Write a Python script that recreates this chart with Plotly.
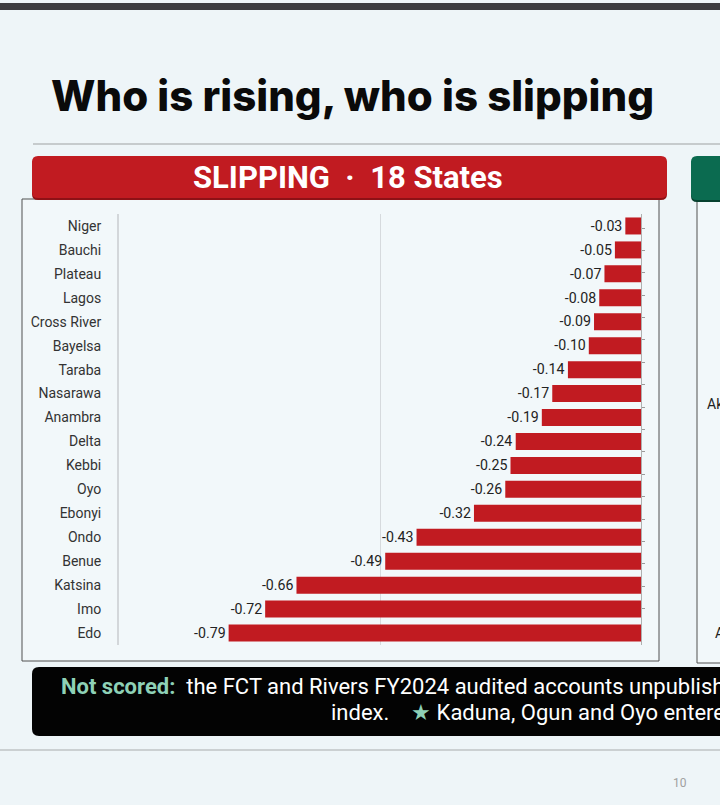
import plotly.graph_objects as go

# ---- data ----
states = ["Niger", "Bauchi", "Plateau", "Lagos", "Cross River", "Bayelsa", "Taraba",
          "Nasarawa", "Anambra", "Delta", "Kebbi", "Oyo", "Ebonyi", "Ondo", "Benue",
          "Katsina", "Imo", "Edo"]
changes = [-0.03, -0.05, -0.07, -0.08, -0.09, -0.10, -0.14, -0.17, -0.19, -0.24,
           -0.25, -0.26, -0.32, -0.43, -0.49, -0.66, -0.72, -0.79]
title_text = "Who is rising, who is slipping"
panel_title = "SLIPPING  ·  18 States"
note_line1 = ("<span style='color:#8ED1B6'><b>Not scored:</b></span>  the FCT and Rivers "
              "FY2024 audited accounts unpublished at the time of the")
note_line2 = "index.    <span style='color:#8ED1B6'>★</span> Kaduna, Ogun and Oyo entered the"
right_labels = ["Akwa Ibom", "Abia"]

W, H = 720, 805


def px(x):
    return x / W


def py(y):
    return 1 - y / H


def rrect(x0, y0, x1, y1, r):
    rx, ry = r / W, r / H
    X0, X1 = px(x0), px(x1)
    Y0, Y1 = py(y0), py(y1)  # Y0 top (larger), Y1 bottom
    return (f"M{X0+rx},{Y0} L{X1-rx},{Y0} Q{X1},{Y0} {X1},{Y0-ry} "
            f"L{X1},{Y1+ry} Q{X1},{Y1} {X1-rx},{Y1} L{X0+rx},{Y1} "
            f"Q{X0},{Y1} {X0},{Y1+ry} L{X0},{Y0-ry} Q{X0},{Y0} {X0+rx},{Y0} Z")


RED = "#C11B21"
GREEN = "#0B6B50"
BG = "#EEF5F8"

fig = go.Figure()
fig.add_trace(go.Bar(
    x=changes, y=states, orientation="h",
    marker=dict(color=RED, line=dict(width=0)),
    text=changes, texttemplate="%{x:.2f}", textposition="outside",
    textfont=dict(family="Roboto", size=15, color="#222222"),
    cliponaxis=False, hoverinfo="skip", width=0.71,
))
fig.add_trace(go.Scatter(
    x=changes, y=states, yaxis="y2", mode="markers",
    marker=dict(opacity=0), hoverinfo="skip", showlegend=False,
))

shapes = []
# top dark strip
shapes.append(dict(type="rect", xref="paper", yref="paper", x0=0, x1=1,
                   y0=py(10), y1=py(3), fillcolor="#3C3C40", line=dict(width=0), layer="below"))
# separator line under title
shapes.append(dict(type="line", xref="paper", yref="paper", x0=px(33), x1=1,
                   y0=py(144), y1=py(144), line=dict(color="#B8BCBF", width=1.5)))
# bottom separator
shapes.append(dict(type="line", xref="paper", yref="paper", x0=0, x1=1,
                   y0=py(750), y1=py(750), line=dict(color="#BFC3C6", width=1.5)))
# chart boxes
shapes.append(dict(type="rect", xref="paper", yref="paper", x0=px(22), x1=px(659),
                   y0=py(661), y1=py(199), fillcolor="#F2F8FA",
                   line=dict(color="#505050", width=1), layer="below"))
shapes.append(dict(type="rect", xref="paper", yref="paper", x0=px(697), x1=px(760),
                   y0=py(663), y1=py(200), fillcolor="#F2F8FA",
                   line=dict(color="#505050", width=1), layer="below"))
# red header with darker lower edge
shapes.append(dict(type="path", xref="paper", yref="paper", path=rrect(32, 158, 667, 200, 6),
                   fillcolor="#8E1116", line=dict(width=0)))
shapes.append(dict(type="path", xref="paper", yref="paper", path=rrect(32, 156, 667, 198, 6),
                   fillcolor=RED, line=dict(width=0)))
# green header (cut off)
shapes.append(dict(type="path", xref="paper", yref="paper", path=rrect(691, 158, 780, 202, 6),
                   fillcolor="#07412F", line=dict(width=0)))
shapes.append(dict(type="path", xref="paper", yref="paper", path=rrect(691, 156, 780, 200, 6),
                   fillcolor=GREEN, line=dict(width=0)))
# black note box
shapes.append(dict(type="path", xref="paper", yref="paper", path=rrect(32, 667, 790, 736, 7),
                   fillcolor="#030303", line=dict(width=0)))

annotations = [
    dict(text=title_text, xref="paper", yref="paper", x=px(49), y=py(95),
         xanchor="left", yanchor="middle", showarrow=False,
         font=dict(family="Inter", size=42, color="#0A0A0A", weight=800)),
    dict(text=f"<b>{panel_title}</b>", xref="paper", yref="paper", x=px(348), y=py(177),
         xanchor="center", yanchor="middle", showarrow=False,
         font=dict(family="Roboto", size=31, color="#FFFFFF")),
    dict(text=note_line1, xref="paper", yref="paper", x=px(59), y=py(686),
         xanchor="left", yanchor="middle", showarrow=False,
         font=dict(family="Roboto", size=22, color="#FFFFFF")),
    dict(text=note_line2, xref="paper", yref="paper", x=px(329), y=py(712),
         xanchor="left", yanchor="middle", showarrow=False,
         font=dict(family="Roboto", size=22, color="#FFFFFF")),
    dict(text="10", xref="paper", yref="paper", x=px(680), y=py(783),
         xanchor="center", yanchor="middle", showarrow=False,
         font=dict(family="Roboto", size=12, color="#A0A0A0")),
    dict(text=right_labels[0], xref="paper", yref="paper", x=px(705), y=py(404),
         xanchor="left", yanchor="middle", showarrow=False,
         font=dict(family="Roboto", size=14, color="#222222")),
    dict(text=right_labels[1], xref="paper", yref="paper", x=px(713), y=py(633),
         xanchor="left", yanchor="middle", showarrow=False,
         font=dict(family="Roboto", size=14, color="#222222")),
]

fig.update_layout(
    width=W, height=H,
    margin=dict(l=0, r=0, t=0, b=0),
    paper_bgcolor=BG, plot_bgcolor="rgba(0,0,0,0)",
    showlegend=False,
    bargap=0.29,
    xaxis=dict(domain=[px(119), px(641)], range=[-1, 0], dtick=0.5,
               showgrid=True, gridcolor="#D6DADD", gridwidth=1,
               zeroline=False, showticklabels=False, ticks="", showline=False,
               fixedrange=True),
    yaxis=dict(domain=[py(645), py(214)], categoryorder="array", categoryarray=states,
               autorange="reversed", showgrid=False, zeroline=False,
               showline=True, linecolor="#D3D7DA", linewidth=2,
               ticks="", ticklabelstandoff=13,
               tickfont=dict(family="Roboto", size=14, color="#333333"),
               fixedrange=True),
    yaxis2=dict(overlaying="y", side="right", anchor="x", categoryorder="array",
                categoryarray=states, autorange="reversed", showgrid=False,
                showticklabels=False, showline=True, linecolor="#B0B0B0", linewidth=1,
                ticks="outside", ticklen=3, tickcolor="#9A9A9A", tickson="boundaries",
                fixedrange=True),
    shapes=shapes,
    annotations=annotations,
)

fig.write_html("out.html", config={"displayModeBar": False},
               post_script="document.body.style.margin='0';document.body.style.padding='0';")
